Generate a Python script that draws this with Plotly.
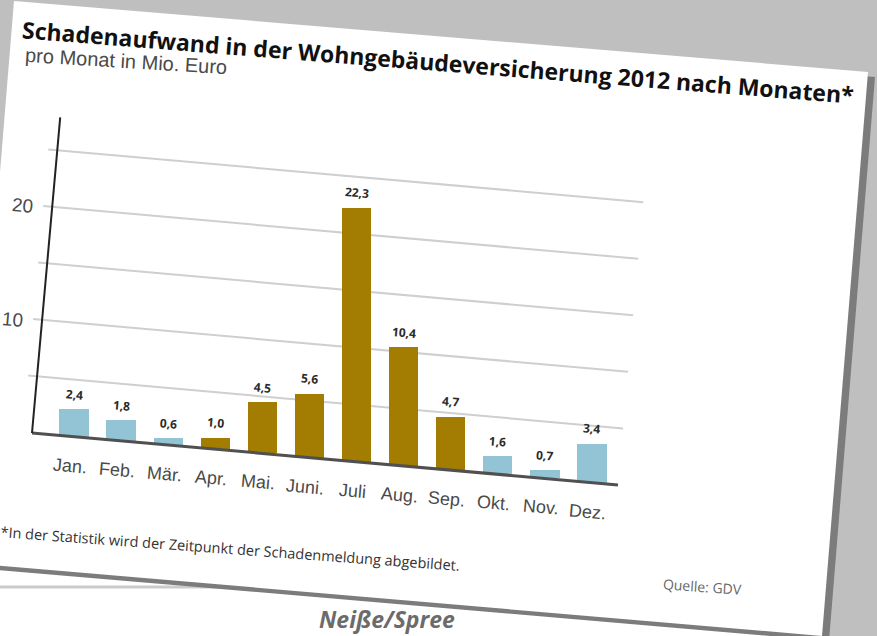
import plotly.graph_objects as go

# ---- data ----
MONTHS = ["Jan.", "Feb.", "Mär.", "Apr.", "Mai.", "Juni.", "Juli", "Aug.", "Sep.", "Okt.", "Nov.", "Dez."]
DAMAGE = [2.4, 1.8, 0.6, 1.0, 4.5, 5.6, 22.3, 10.4, 4.7, 1.6, 0.7, 3.4]   # Mio. Euro
GRID_VALUES = [5, 10, 15, 20, 25]
TICK_VALUES = [10, 20]
SUMMER = MONTHS[3:9]          # Apr. - Sep. are printed in gold

TITLE = "Schadenaufwand in der Wohngebäudeversicherung 2012 nach Monaten*"
SUBTITLE = "pro Monat in Mio. Euro"
FOOTNOTE = "*In der Statistik wird der Zeitpunkt der Schadenmeldung abgebildet."
SOURCE = "Quelle: GDV"
NEXT_HEAD = "Neiße/Spree"

# ---- geometry of the tilted newspaper sheet (pixels) ----
W, H = 877, 636
X0, STEP = 74.0, 47.09      # centre of first bar, distance between bars
Y0, PXU = 436.7, 11.4       # baseline under first bar, pixels per Mio. Euro
SLOPE = 0.0887              # tilt of the sheet
TILT = -SLOPE * STEP / PXU  # baseline drop per month, in value units
LEAN = PXU * SLOPE / STEP   # sideways drift per value unit, in month units

BLUE, GOLD = "#92c4d6", "#a27d02"
GREY_BG, SHADOW = "#bfbfbf", "#7c7c7c"
TEXT_DARK, TEXT_MID = "#2b2b2b", "#4a4a4a"


def sheet(i, v):
    """Point at month position i and height v on the tilted sheet -> data coords."""
    x = i + v * LEAN
    return x, v + TILT * x


def paper(xp, yp):
    return xp / W, 1 - yp / H


def poly(points, dx=0, dy=0):
    parts = []
    for k, (xp, yp) in enumerate(points):
        x, y = paper(xp + dx, yp + dy)
        parts.append(("M" if k == 0 else "L") + f"{x:.5f},{y:.5f}")
    return " ".join(parts) + " Z"


SHEET_CORNERS = [(14, 1), (868, 72), (822, 636), (-32, 563)]

fig = go.Figure()

bases = [TILT * i for i in range(len(MONTHS))]
fig.add_trace(go.Bar(
    x=MONTHS, y=DAMAGE, base=bases, width=0.62,
    marker=dict(color=[GOLD if m in SUMMER else BLUE for m in MONTHS], line=dict(width=0)),
    hoverinfo="skip", showlegend=False,
))

shapes = []
# page underneath the clipping
shapes.append(dict(type="rect", xref="paper", yref="paper", layer="below",
                   x0=0, x1=826 / W, y0=0, y1=1 - 500 / H,
                   fillcolor="white", line=dict(width=0)))
shapes.append(dict(type="line", xref="paper", yref="paper", layer="below",
                   x0=0, x1=320 / W, y0=1 - 587 / H, y1=1 - 587 / H,
                   line=dict(color="#cbcbcb", width=3)))
# shadow and sheet
shapes.append(dict(type="path", xref="paper", yref="paper", layer="below",
                   path=poly(SHEET_CORNERS, 7, 5), fillcolor=SHADOW, line=dict(width=0)))
shapes.append(dict(type="path", xref="paper", yref="paper", layer="below",
                   path=poly(SHEET_CORNERS), fillcolor="white", line=dict(width=0)))

# gridlines along the tilted sheet
I_LEFT, I_RIGHT, I_AXIS = (23 - X0) / STEP, (618 - X0) / STEP, (32 - X0) / STEP
for v in GRID_VALUES:
    xa, ya = sheet(I_LEFT, v)
    xb, yb = sheet(I_RIGHT, v)
    shapes.append(dict(type="line", xref="x", yref="y", layer="below",
                       x0=xa, y0=ya, x1=xb, y1=yb,
                       line=dict(color="#cfcfcf", width=2)))
# axes
xa, ya = sheet(I_AXIS, 0)
xb, yb = sheet(I_RIGHT, 0)
shapes.append(dict(type="line", xref="x", yref="y", x0=xa, y0=ya, x1=xb, y1=yb,
                   line=dict(color="#505050", width=3)))
xt, yt = sheet(I_AXIS, 27.9)
shapes.append(dict(type="line", xref="x", yref="y", x0=xa, y0=ya, x1=xt, y1=yt,
                   line=dict(color="#222222", width=2)))

ann = []
SANS = "Liberation Sans, Arial, sans-serif"
OPEN = "Open Sans, sans-serif"
for i, (m, v) in enumerate(zip(MONTHS, DAMAGE)):
    base = TILT * i
    ann.append(dict(x=i, y=base, xref="x", yref="y", text=m, showarrow=False,
                    xanchor="center", yanchor="middle", xshift=-4, yshift=-29,
                    textangle=5, font=dict(family=SANS, size=18, color=TEXT_MID)))
    ann.append(dict(x=i, y=base + v, xref="x", yref="y",
                    text=f"{v:.1f}".replace(".", ","), showarrow=False,
                    xanchor="center", yanchor="middle", yshift=15, textangle=5,
                    font=dict(family=OPEN, size=12, color=TEXT_DARK, weight="bold")))
for v in TICK_VALUES:
    xv, yv = sheet(I_LEFT, v)
    ann.append(dict(x=xv, y=yv, xref="x", yref="y", text=str(v), showarrow=False,
                    xanchor="right", yanchor="middle", xshift=-7, textangle=5,
                    font=dict(family=SANS, size=19, color=TEXT_MID)))


def text_at(xp, yp, text, size, angle, color, family=SANS, weight="normal", style="normal"):
    x, y = paper(xp, yp)
    return dict(x=x, y=y, xref="paper", yref="paper", text=text, showarrow=False,
                xanchor="center", yanchor="middle", textangle=angle,
                font=dict(family=family, size=size, color=color, weight=weight, style=style))


ann.append(text_at(438, 62, TITLE, 23, 4.5, "#111111", family=OPEN, weight="bold"))
ann.append(text_at(126, 61, SUBTITLE, 20, 3.5, TEXT_MID))
ann.append(text_at(230, 548, FOOTNOTE, 14.5, 4.2, "#333333", family=OPEN))
ann.append(text_at(702, 586, SOURCE, 14, 4.0, "#666666", family=OPEN))
ann.append(text_at(387, 619, NEXT_HEAD, 23, 0, "#6b6b6b", family=OPEN,
                   weight="bold", style="italic"))

fig.update_layout(
    width=W, height=H, margin=dict(l=0, r=0, t=0, b=0),
    paper_bgcolor=GREY_BG, plot_bgcolor="rgba(0,0,0,0)",
    xaxis=dict(domain=[0, 1], range=[(0 - X0) / STEP, (W - X0) / STEP], visible=False,
               type="category", categoryorder="array", categoryarray=MONTHS),
    yaxis=dict(domain=[0, 1], range=[(Y0 - H) / PXU, Y0 / PXU], visible=False),
    shapes=shapes, annotations=ann, bargap=0, showlegend=False,
)

fig.write_html("out.html", config={"displayModeBar": False})
